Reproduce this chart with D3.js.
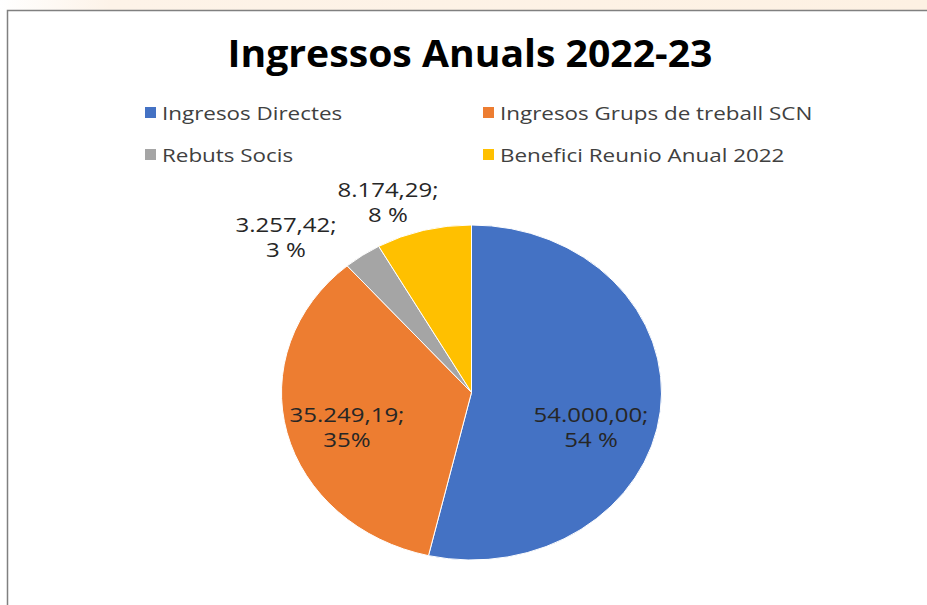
<!DOCTYPE html>
<html>
<head>
<meta charset="utf-8">
<script src="https://d3js.org/d3.v7.min.js"></script>
<style>
  body { margin: 0; background: #fff; }
  svg text { font-family: 'Open Sans', sans-serif; }
</style>
</head>
<body>
<svg id="chart" width="927" height="605"></svg>
<script>
const categories = ['Ingresos Directes', 'Ingresos Grups de treball SCN', 'Rebuts Socis', 'Benefici Reunio Anual 2022'];
const values = [54000.00, 35249.19, 3257.42, 8174.29];
const valueLabels = ['54.000,00;', '35.249,19;', '3.257,42;', '8.174,29;'];
const pctLabels = ['54 %', '35%', '3 %', '8 %'];
const colors = ['#4472C4', '#ED7D31', '#A5A5A5', '#FFC000'];

const svg = d3.select('#chart');
const sx = 1.18; // the reference is stretched sideways a bit

// beige strip above the frame
const grad = svg.append('defs').append('linearGradient').attr('id', 'strip');
grad.append('stop').attr('offset', '0%').attr('stop-color', '#ffffff');
grad.append('stop').attr('offset', '12%').attr('stop-color', '#fdf3e8');
grad.append('stop').attr('offset', '100%').attr('stop-color', '#fdf1e3');
svg.append('rect').attr('x', 0).attr('y', 0).attr('width', 927).attr('height', 10).attr('fill', 'url(#strip)');

// frame (top + left)
svg.append('path').attr('d', 'M7.5,605 V10.5 H927').attr('fill', 'none').attr('stroke', '#808080').attr('stroke-width', 1.5);

// title
svg.append('text')
  .attr('transform', 'translate(470,67) scale(1.03,1)')
  .attr('text-anchor', 'middle')
  .attr('font-size', 38).attr('font-weight', 700).attr('fill', '#000')
  .text('Ingressos Anuals 2022-23');

// legend
const legendPos = [[145, 113], [483, 113], [145, 155], [483, 155]];
const lg = svg.append('g').selectAll('g').data(categories).join('g')
  .attr('transform', (d, i) => `translate(${legendPos[i][0]},${legendPos[i][1]})`);
lg.append('rect').attr('x', 0).attr('y', -6).attr('width', 11).attr('height', 11)
  .attr('fill', (d, i) => colors[i]);
lg.append('text').attr('transform', `translate(17,7) scale(${sx},1)`)
  .attr('font-size', 19).attr('fill', '#404040').text(d => d);

// pie (elliptical, as in the reference)
const cx = 471.5, cy = 392.5, rx = 190, ry = 167.5;
const pie = d3.pie().sort(null).value(d => d);
const arcs = pie(values);
const arc = d3.arc().innerRadius(0).outerRadius(rx);
svg.append('g')
  .attr('transform', `translate(${cx},${cy}) scale(1,${ry / rx})`)
  .selectAll('path').data(arcs).join('path')
  .attr('d', arc)
  .attr('fill', (d, i) => colors[i])
  .attr('stroke', '#fff').attr('stroke-width', 1)
  .attr('vector-effect', 'non-scaling-stroke');

// data labels: x centre and first-line baseline of each label block
const labelPos = [[591, 422], [347, 422], [286, 232], [388, 197]];
const labels = svg.append('g').selectAll('text').data(arcs).join('text')
  .attr('text-anchor', 'middle')
  .attr('font-size', 20).attr('fill', '#262626')
  .attr('transform', (d, i) => `translate(${labelPos[i][0]},${labelPos[i][1]}) scale(1.2,1)`);
labels.append('tspan').attr('x', 0).attr('y', 0).text((d, i) => valueLabels[i]);
labels.append('tspan').attr('x', 0).attr('y', 25).text((d, i) => pctLabels[i]);
</script>
</body>
</html>
